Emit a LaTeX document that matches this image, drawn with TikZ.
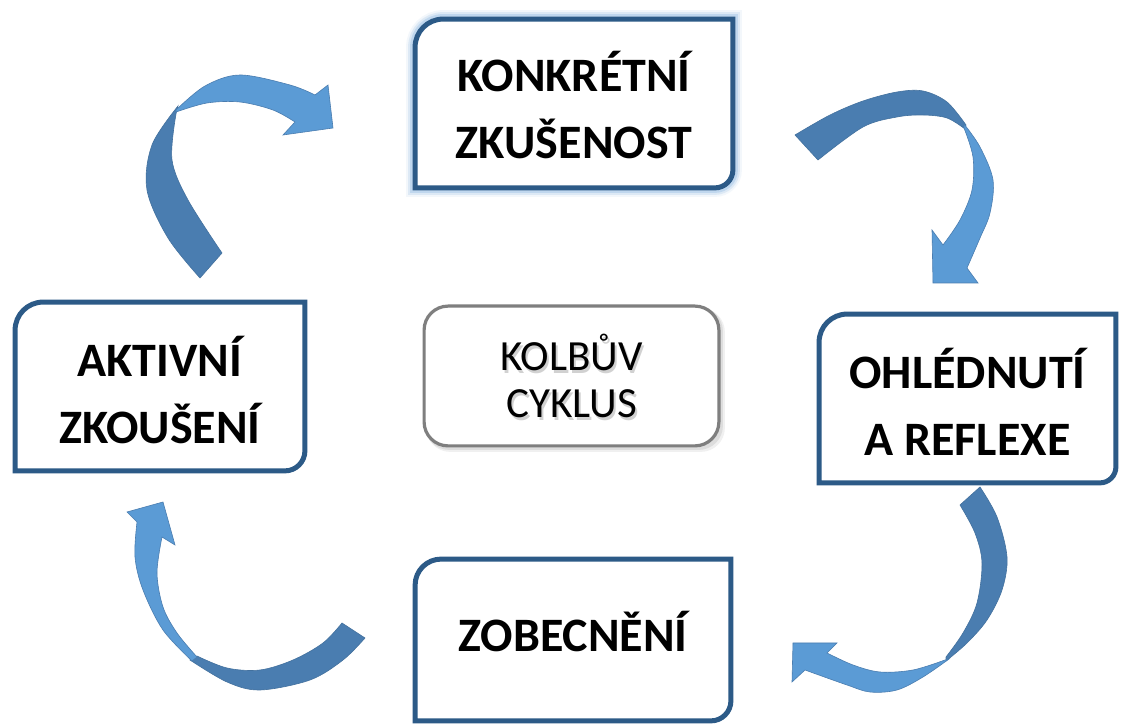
\documentclass[tikz,border=0pt]{standalone}
\usepackage{fontspec}
\setmainfont{Carlito}
\definecolor{bord}{HTML}{2C5A87}
\definecolor{adark}{HTML}{4A7DB0}
\definecolor{alight}{HTML}{5B9BD5}
\definecolor{glowc}{HTML}{9DC3E6}
\definecolor{cgray}{HTML}{7F7F7F}
\tikzset{
  stagebox/.style={rectangle, inner sep=0pt, align=center,
    font=\bfseries\fontsize{24}{33.5}\selectfont},
  centerbox/.style={rectangle, inner sep=0pt, align=center,
    font=\fontsize{21.5}{23.5}\selectfont},
  boxline/.style={draw=bord, line width=2.5pt, fill=white},
  darkpart/.style={fill=adark, draw=adark!90!black, line width=0.3pt},
  lightpart/.style={fill=alight, draw=adark, line width=0.3pt},
  sm/.style={smooth, tension=0.55},
}
\newcommand{\diagpath}[3]{% node, r top-left, r bottom-right
  (#1.west) [rounded corners=#2] -- (#1.north west) -- (#1.north) [sharp corners]
  -- (#1.north east) -- (#1.east) [rounded corners=#3] -- (#1.south east)
  -- (#1.south) [sharp corners] -- (#1.south west) -- cycle}
\begin{document}
\begin{tikzpicture}[x=0.5pt,y=-0.5pt]
\useasboundingbox (0,0) rectangle (1121,726);
\fill[white] (0,0) rectangle (1121,726);

% boxes (nodes)
\node[stagebox, minimum width=158.5pt, minimum height=84pt] (k) at (574,103.5) {};
\node[stagebox, minimum width=144.5pt, minimum height=84pt] (a) at (160,386.5) {};
\node[stagebox, minimum width=148pt, minimum height=84pt] (o) at (967.5,398.5) {};
\node[stagebox, minimum width=157.5pt, minimum height=80.5pt] (z) at (573,640) {};
\node[centerbox, minimum width=147pt, minimum height=69.5pt] (c) at (571.5,376) {};

% glow of the top box
\draw[glowc, line width=9pt, opacity=0.12] \diagpath{k}{14pt}{9pt};
\draw[glowc, line width=7pt, opacity=0.25] \diagpath{k}{14pt}{9pt};
\draw[glowc, line width=5pt, opacity=0.45] \diagpath{k}{14pt}{9pt};

\draw[boxline] \diagpath{k}{14pt}{9pt};
\draw[boxline] \diagpath{a}{14pt}{10pt};
\draw[boxline] \diagpath{o}{14pt}{8pt};
\draw[boxline] \diagpath{z}{13pt}{10pt};

% centre box with shadow
\fill[black, opacity=0.06, rounded corners=12pt] ([xshift=1pt,yshift=-3pt]c.south west) rectangle ([xshift=3pt,yshift=-1pt]c.north east);
\fill[black, opacity=0.08, rounded corners=12pt] ([xshift=0.5pt,yshift=-2pt]c.south west) rectangle ([xshift=2pt,yshift=-0.5pt]c.north east);
\draw[cgray, line width=1.6pt, fill=white, rounded corners=12pt] (c.south west) rectangle (c.north east);

% texts
\node[stagebox] (kt) at ([yshift=-1pt]k.center) {KONKRÉTNÍ\\ZKUŠENOST};
\node[stagebox] (at) at ([yshift=-2pt]a.center) {AKTIVNÍ\\ZKOUŠENÍ};
\node[stagebox] (ot) at ([yshift=-1.5pt]o.center) {OHLÉDNUTÍ\\A REFLEXE};
\node[stagebox] (zt) at ([yshift=4pt]z.center) {ZOBECNĚNÍ};
\node[centerbox, text=black, opacity=0.18] (cs) at ([xshift=1pt,yshift=-1.5pt]c.center) {KOLBŮV\\CYKLUS};
\node[centerbox] (ct) at (c.center) {KOLBŮV\\CYKLUS};

% arrow 1: AKTIVNI -> KONKRETNI
\filldraw[darkpart] plot[sm] coordinates {(200,278) (168,238) (147,190) (152,145) (178,106)}
  -- plot[sm] coordinates {(176,114) (172,160) (188,200) (222,253)} -- cycle;
\filldraw[lightpart] plot[sm] coordinates {(176,110) (205,86) (240,75) (290,85) (315,95)}
  -- (328,85) -- (333,128) -- (283,135) -- (295,122)
  -- plot[sm] coordinates {(295,122) (273,110) (240,102) (207,103) (176,112)} -- cycle;

% arrow 2: KONKRETNI -> OHLEDNUTI
\filldraw[darkpart] plot[sm] coordinates {(795,135) (830,115) (863,101) (897,92) (923,91) (947,102) (966,125)}
  -- plot[sm] coordinates {(965,129) (947,118) (923,115) (897,117) (863,127) (818,160)} -- cycle;
\filldraw[lightpart] plot[sm] coordinates {(964,124) (980,147) (993,180) (990,213) (980,238) (967,268)}
  -- (978,283) -- (933,283) -- (932,230) -- (943,245)
  -- plot[sm] coordinates {(943,245) (960,220) (972,190) (973,157) (964,128)} -- cycle;

% arrow 3: OHLEDNUTI -> ZOBECNENI
\filldraw[darkpart] plot[sm] coordinates {(980,487) (997,517) (1007,557) (1002,590) (987,620) (967,643) (946,661)}
  -- plot[sm] coordinates {(946,657) (963,633) (977,603) (982,563) (975,533) (960,505)} -- cycle;
\filldraw[lightpart] plot[sm] coordinates {(949,659) (923,677) (897,690) (870,692) (847,685) (805,670)}
  -- (792,682) -- (793,643) -- (837,643) -- (827,653)
  -- plot[sm] coordinates {(827,653) (853,665) (880,672) (913,670) (945,660)} -- cycle;

% arrow 4: ZOBECNENI -> AKTIVNI
\filldraw[darkpart] plot[sm] coordinates {(365,638) (343,660) (310,680) (260,690) (227,682) (190,660)}
  -- plot[sm] coordinates {(197,656) (227,668) (260,670) (293,660) (323,643) (342,623)} -- cycle;
\filldraw[lightpart] plot[sm] coordinates {(192,661) (163,630) (143,590) (135,557) (137,522)}
  -- (127,512) -- (163,502) -- (175,545) -- (162,537)
  -- plot[sm] coordinates {(162,537) (157,573) (163,607) (177,633) (197,657)} -- cycle;
\end{tikzpicture}
\end{document}
